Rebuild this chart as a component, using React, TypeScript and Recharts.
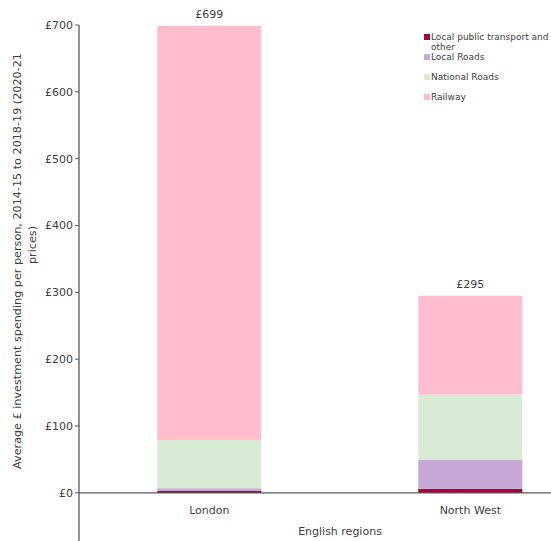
import React from 'react';
import { BarChart, Bar, XAxis, YAxis, ReferenceLine, LabelList } from 'recharts';

const regions = ['London', 'North West'];
const localPublicTransport = [3, 6];
const localRoads = [4, 44];
const nationalRoads = [72, 97];
const railway = [620, 148];
const yTicks = [0, 100, 200, 300, 400, 500, 600, 700];

const seriesNames = ['Local public transport and other', 'Local Roads', 'National Roads', 'Railway'];
const seriesKeys = ['lpt', 'localRoads', 'nationalRoads', 'railway'];
const seriesColors = ['#A8003B', '#C6A9D7', '#D9EAD4', '#FFBDCD'];

const data = regions.map((region, i) => ({
  region,
  lpt: localPublicTransport[i],
  localRoads: localRoads[i],
  nationalRoads: nationalRoads[i],
  railway: railway[i],
  total: localPublicTransport[i] + localRoads[i] + nationalRoads[i] + railway[i],
}));

const FONT = '"DejaVu Sans", sans-serif';
const TEXT = '#404040';
const AXIS = '#595959';

const CategoryLabel = (props: any) => {
  const { x, y, width, height, index } = props;
  return (
    <text x={x + width / 2} y={y + height + 21} textAnchor="middle" fontSize={11} fontFamily={FONT} fill={TEXT}>
      {data[index].region}
    </text>
  );
};

const TotalLabel = (props: any) => {
  const { x, y, width, index } = props;
  return (
    <text x={x + width / 2} y={y - 8} textAnchor="middle" fontSize={11} fontFamily={FONT} fill={TEXT}>
      {'£' + data[index].total}
    </text>
  );
};

const YLabel = () => (
  <g>
    <text transform="translate(17,261) rotate(-90)" textAnchor="middle" dominantBaseline="central" fontSize={11.2} fontFamily={FONT} fill={TEXT}>
      Average £ investment spending per person, 2014-15 to 2018-19 (2020-21
    </text>
    <text transform="translate(32,245) rotate(-90)" textAnchor="middle" dominantBaseline="central" fontSize={11.2} fontFamily={FONT} fill={TEXT}>
      prices)
    </text>
  </g>
);

const LegendBox = () => (
  <div style={{ position: 'absolute', left: 424, top: 32, fontFamily: FONT, fontSize: 9, color: TEXT }}>
    {seriesNames.map((name, i) => (
      <div key={name} style={{ display: 'flex', alignItems: 'flex-start', height: 20 }}>
        <div style={{ width: 6, height: 6, background: seriesColors[i], marginTop: 2, marginRight: 1, flexShrink: 0 }} />
        <div style={{ width: 122, lineHeight: '10px' }}>{name}</div>
      </div>
    ))}
  </div>
);

export default function App() {
  return (
    <div style={{ position: 'absolute', left: 0, top: 0, width: 551, height: 541, overflow: 'hidden', background: '#fff' }}>
      <BarChart
        width={610}
        height={541}
        data={data}
        margin={{ top: 25, right: 9, bottom: 0, left: 0 }}
        barCategoryGap="30%"
      >
        <XAxis dataKey="region" hide />
        <YAxis
          width={79}
          type="number"
          domain={[-72, 700]}
          ticks={yTicks}
          allowDataOverflow
          tickFormatter={(v: number) => '£' + v}
          tick={{ fontSize: 11, fontFamily: FONT, fill: TEXT }}
          tickSize={4}
          tickLine={{ stroke: AXIS }}
          axisLine={{ stroke: AXIS, strokeWidth: 1.3 }}
          label={<YLabel />}
        />
        {seriesKeys.map((key, i) => (
          <Bar key={key} dataKey={key} name={seriesNames[i]} stackId="a" fill={seriesColors[i]} isAnimationActive={false}>
            {i === 0 && <LabelList dataKey={key} content={<CategoryLabel />} />}
            {i === 3 && <LabelList dataKey={key} content={<TotalLabel />} />}
          </Bar>
        ))}
        <ReferenceLine
          y={0}
          stroke={AXIS}
          strokeWidth={1.3}
          label={{ value: 'English regions', position: 'bottom', offset: 34, fontSize: 11, fontFamily: FONT, fill: TEXT }}
        />
      </BarChart>
      <LegendBox />
    </div>
  );
}
